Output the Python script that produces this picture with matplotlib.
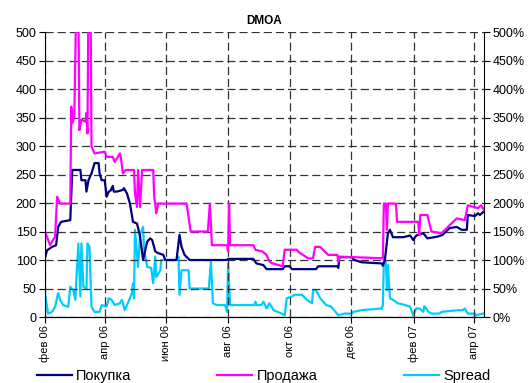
import matplotlib
matplotlib.use("Agg")
import matplotlib.pyplot as plt
import numpy as np

plt.rcParams['font.family'] = ['Liberation Sans', 'DejaVu Sans']

# days since 2006-02-01
buy_days = [0, 2, 7, 11, 13, 16, 25, 27, 35, 36, 40, 41, 43, 46, 49, 53, 54, 56, 59, 61, 63,
            65, 67, 68, 71, 77, 78, 81, 84, 87, 91, 94, 97, 101, 104, 106, 109, 112, 117, 119,
            130, 133, 135, 138, 143, 180, 181, 206, 209, 216, 219, 235, 237, 242, 244, 268, 270,
            289, 290, 291, 303, 306, 313, 333, 334, 336, 339, 341, 344, 354, 361, 364, 367, 374,
            378, 388, 393, 400, 407, 412, 417, 418, 425, 428, 430, 433]
buy = [103, 117, 123, 126, 158, 167, 170, 258, 258, 240, 240, 220, 240, 252, 270, 270, 252, 240,
       240, 211, 220, 222, 230, 220, 220, 223, 226, 217, 199, 167, 164, 141, 100, 132, 138, 135,
       115, 112, 109, 100, 100, 144, 123, 109, 100, 100, 102, 102, 94, 91, 84, 84, 89, 89, 84,
       84, 89, 89, 86, 105, 105, 100, 96, 94, 90, 100, 147, 153, 140, 140, 143, 135, 143, 147,
       138, 141, 144, 156, 158, 153, 153, 179, 177, 182, 179, 184]

sell_days = [0, 5, 10, 12, 15, 25, 26, 27, 29, 31, 33, 34, 36, 40, 41, 42, 43, 45, 46, 49, 59,
             61, 67, 69, 72, 74, 75, 77, 80, 88, 89, 91, 92, 94, 96, 107, 108, 110, 112, 140,
             144, 161, 163, 165, 180, 181, 182, 183, 206, 208, 215, 219, 222, 225, 235, 237,
             249, 250, 260, 265, 267, 272, 280, 289, 290, 291, 334, 335, 337, 338, 339, 347,
             348, 369, 370, 371, 378, 382, 392, 400, 407, 415, 418, 428, 431, 434]
sell = [150, 126, 141, 211, 199, 199, 369, 340, 351, 560, 560, 328, 346, 343, 358, 322, 560,
        560, 299, 287, 290, 281, 281, 272, 281, 287, 281, 252, 258, 258, 217, 193, 258, 193,
        258, 258, 211, 182, 199, 199, 150, 150, 199, 126, 126, 115, 199, 126, 126, 118, 115,
        109, 97, 94, 89, 118, 118, 115, 103, 103, 123, 123, 109, 109, 97, 106, 103, 199, 199,
        153, 199, 199, 167, 167, 144, 179, 179, 150, 147, 161, 173, 170, 196, 191, 196, 188]

spread_days = [0, 3, 7, 10, 13, 15, 18, 23, 25, 28, 30, 31, 33, 35, 36, 38, 41, 42, 44, 46, 49,
               54, 56, 61, 63, 66, 69, 74, 76, 79, 86, 87, 88, 89, 92, 94, 97, 98, 101, 105,
               107, 109, 110, 114, 115, 130, 132, 133, 135, 142, 143, 162, 164, 166, 170, 178,
               180, 181, 183, 207, 208, 209, 214, 216, 219, 222, 226, 234, 237, 239, 244, 247,
               254, 259, 264, 265, 268, 272, 278, 283, 290, 296, 303, 305, 313, 333, 334, 335,
               337, 338, 339, 341, 344, 349, 356, 361, 364, 367, 370, 374, 375, 379, 382, 390,
               392, 408, 413, 415, 418, 425, 426, 433]
spread = [42, 6, 9, 18, 42, 30, 21, 18, 53, 47, 30, 65, 129, 36, 129, 53, 50, 129, 123, 18, 9,
          9, 21, 18, 33, 30, 21, 24, 30, 12, 42, 59, 33, 153, 88, 144, 158, 118, 88, 86, 59,
          106, 70, 82, 100, 100, 106, 39, 82, 82, 50, 50, 97, 24, 21, 21, 9, 94, 21, 21, 27,
          21, 21, 27, 15, 24, 12, 6, 3, 33, 36, 39, 39, 30, 24, 47, 47, 33, 21, 18, 3, 6, 6, 9,
          12, 15, 21, 100, 97, 47, 91, 33, 30, 24, 21, 18, 3, 15, 15, 9, 19, 9, 6, 6, 9, 12, 12,
          15, 6, 6, 3, 6]

tick_dates = ['2006-02-01', '2006-04-01', '2006-06-01', '2006-08-01', '2006-10-01',
              '2006-12-01', '2007-02-01', '2007-04-01']
tick_labels = ['фев 06', 'апр 06', 'июн 06', 'авг 06', 'окт 06', 'дек 06', 'фев 07', 'апр 07']

base = np.datetime64('2006-02-01')
to_dates = lambda d: (base + np.array(d, dtype='timedelta64[D]')).astype('datetime64[D]')

fig = plt.figure(figsize=(5.31, 3.83), dpi=100)
ax = fig.add_axes([0.0847, 0.1723, 0.8268, 0.7441])
ax2 = ax.twinx()

l1, = ax.plot(to_dates(buy_days), buy, color='#000080', lw=1.6)
l2, = ax.plot(to_dates(sell_days), sell, color='#FF00FF', lw=1.6)
l3, = ax2.plot(to_dates(spread_days), spread, color='#00CCFF', lw=1.6)

ax.set_zorder(ax2.get_zorder() + 1)
ax.patch.set_visible(False)

ax.set_xlim(np.datetime64('2006-02-01'), np.datetime64('2007-04-11'))
ax.set_ylim(0, 500)
ax2.set_ylim(0, 500)
ax.set_yticks(np.arange(0, 501, 50))
ax2.set_yticks(np.arange(0, 501, 50))
ax2.set_yticklabels([f'{v}%' for v in range(0, 501, 50)])

ax.set_xticks(np.array(tick_dates, dtype='datetime64[D]'))
ax.set_xticklabels(tick_labels, rotation=90)

ax.grid(True, color='#333333', linestyle=(0, (6.5, 3.2)), lw=0.9)
for a in (ax, ax2):
    a.spines['top'].set_visible(False)
    a.tick_params(labelsize=9, length=4, width=0.8, direction='out', pad=2)
ax.spines['right'].set_visible(False)
ax2.spines['left'].set_visible(False)
ax.tick_params(axis='x', labelsize=8)

ax.set_title('DMOA', fontsize=8.5, fontweight='bold', pad=6)

fig.legend([l1, l2, l3], ['Покупка', 'Продажа', 'Spread'], loc='lower center',
           bbox_to_anchor=(0.496, -0.035), ncol=3, frameon=False, fontsize=10.5,
           handlelength=2.4, handletextpad=0.3, columnspacing=5.9)

fig.savefig('out.png', dpi=100)
